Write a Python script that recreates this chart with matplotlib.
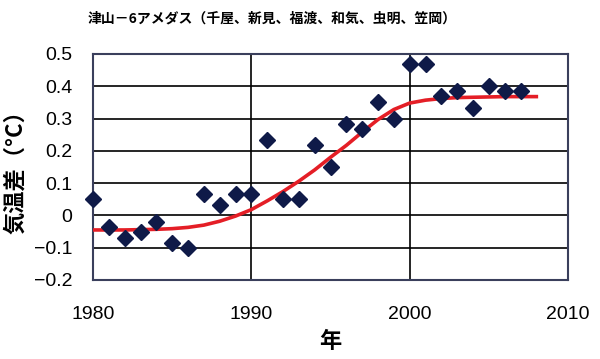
import matplotlib.pyplot as plt

years = list(range(1980, 2008))
diff = [0.05, -0.035, -0.07, -0.05, -0.02, -0.085, -0.10, 0.067, 0.033, 0.067,
        0.067, 0.234, 0.05, 0.05, 0.217, 0.151, 0.283, 0.267, 0.35, 0.30,
        0.468, 0.468, 0.37, 0.386, 0.334, 0.402, 0.385, 0.386]

fit_years = list(range(1980, 2009))
fit = [-0.045, -0.045, -0.045, -0.044, -0.043, -0.041, -0.037, -0.03, -0.018, -0.002,
       0.018, 0.045, 0.074, 0.106, 0.141, 0.18, 0.217, 0.258, 0.297, 0.328,
       0.348, 0.357, 0.362, 0.365, 0.366, 0.367, 0.368, 0.368, 0.368]

xticks = [1980, 1990, 2000, 2010]
yticks = [-0.2, -0.1, 0, 0.1, 0.2, 0.3, 0.4, 0.5]
ylabels = ["\u22120.2", "\u22120.1", "0", "0.1", "0.2", "0.3", "0.4", "0.5"]

jp = ['Noto Sans CJK JP', 'DejaVu Sans']
num = ['Liberation Sans Narrow', 'Liberation Sans', 'DejaVu Sans']

fig = plt.figure(figsize=(6, 3.59), dpi=100)
ax = fig.add_axes([93/600, 1-280/359, 475/600, 226/359])

ax.plot(fit_years, fit, color='#e41e26', lw=2.6, zorder=3)
ax.plot(years, diff, 'D', color='#0f1a48', ms=8.5, zorder=4, clip_on=False)

ax.set_xlim(1980, 2010)
ax.set_ylim(-0.2, 0.5)
ax.set_xticks(xticks)
ax.set_yticks(yticks)
ax.set_xticklabels([str(v) for v in xticks], family=num, fontsize=14)
ax.set_yticklabels(ylabels, family=num, fontsize=14)
ax.tick_params(length=0)
ax.tick_params(axis='y', pad=15)
ax.tick_params(axis='x', pad=19)
ax.grid(True, color='black', lw=1.2)
for s in ax.spines.values():
    s.set_color('#3a3f5c')
    s.set_linewidth(1.5)

ax.set_ylabel('気温差（°C）', family=jp, fontsize=16, fontweight='bold')
ax.yaxis.set_label_coords(-0.164, 0.5)
ax.set_xlabel('年', family=jp, fontsize=16, fontweight='bold')
ax.xaxis.set_label_coords(0.5, -0.27)
ax.xaxis.label.set_va('center')
ax.yaxis.label.set_va('center')

fig.text(272/600, 1-18/359, '津山－6アメダス（千屋、新見、福渡、和気、虫明、笠岡）',
         family=jp, fontsize=10, fontweight='bold', ha='center', va='center')

fig.savefig('out.png', dpi=100)
